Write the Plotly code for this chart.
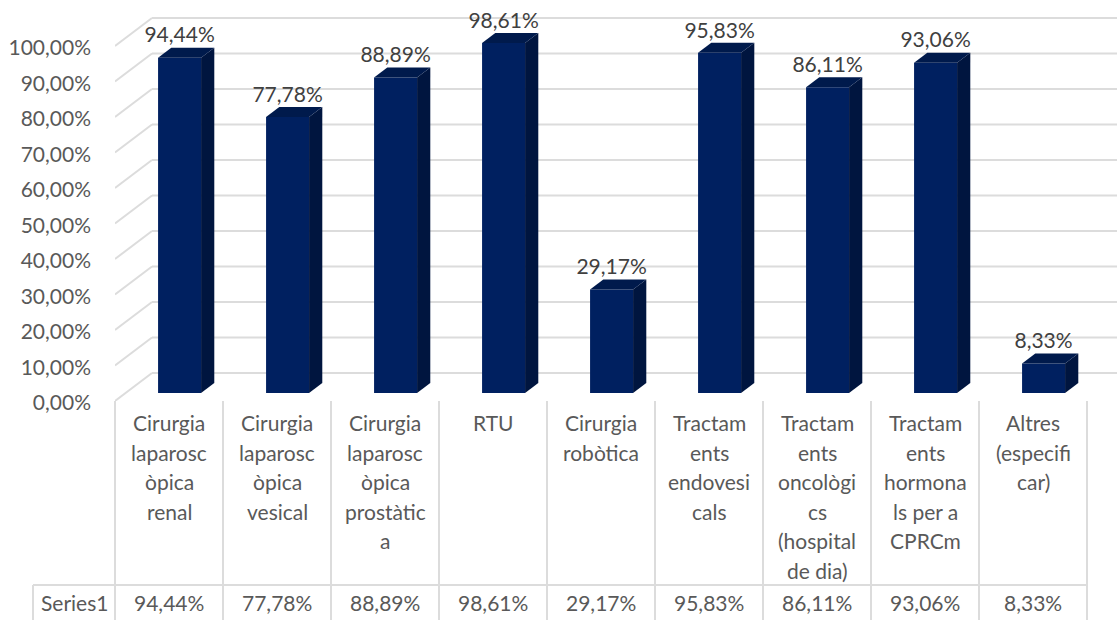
import plotly.graph_objects as go

categories = [
    ["Cirurgia", "laparosc", "òpica", "renal"],
    ["Cirurgia", "laparosc", "òpica", "vesical"],
    ["Cirurgia", "laparosc", "òpica", "prostàtic", "a"],
    ["RTU"],
    ["Cirurgia", "robòtica"],
    ["Tractam", "ents", "endovesi", "cals"],
    ["Tractam", "ents", "oncològi", "cs", "(hospital", "de dia)"],
    ["Tractam", "ents", "hormona", "ls per a", "CPRCm"],
    ["Altres", "(especifi", "car)"],
]
values = [94.44, 77.78, 88.89, 98.61, 29.17, 95.83, 86.11, 93.06, 8.33]
labels = ["94,44%", "77,78%", "88,89%", "98,61%", "29,17%", "95,83%", "86,11%", "93,06%", "8,33%"]
ticks = list(range(0, 101, 10))
tick_labels = ["%d,00%%" % t for t in ticks]
series_name = "Series1"

W, H = 1117, 620
FONT = "Lato"
FS = 21
TXT = "#595959"
GRID = "#dcdcdc"
FRONT, SIDE, TOP = "#002060", "#00153f", "#001a4c"

# geometry (pixels) of the pseudo-3D frame
left, cell, y0, y100 = 115, 108, 401, 46
unit = (y0 - y100) / 100
ytop = 4
xr = [-.5, (W - left) / cell - .5]
yr = [0, (y0 - ytop) / unit]
DX, DY = 37 / cell, 28 / unit       # floor depth
f1, f2 = 8 / 28, 18 / 28            # bar front / back depth fraction
bw = 43 / cell

fig = go.Figure()
shapes, ann = [], []
px = lambda p: p / W
py = lambda p: 1 - p / H
gline = dict(color=GRID, width=2)

# gridlines: back wall + slanted side segments
for t in ticks:
    shapes.append(dict(type="line", xref="x", yref="y", x0=-.5, x1=-.5 + DX, y0=t, y1=t + DY, line=gline, layer="below"))
    shapes.append(dict(type="line", xref="x", yref="y", x0=-.5 + DX, x1=xr[1], y0=t + DY, y1=t + DY, line=gline, layer="below"))

cx = [i + DX * f1 for i in range(9)]
ddx, ddy = DX * (f2 - f1), DY * (f2 - f1)
base = DY * f1
for x, v in zip(cx, values):
    xl, xr_ = x - bw / 2, x + bw / 2
    fig.add_trace(go.Scatter(x=[xr_, xr_ + ddx, xr_ + ddx, xr_, xr_],
                             y=[base, base + ddy, base + v + ddy, base + v, base], fill="toself",
                             fillcolor=SIDE, mode="none", hoverinfo="skip", showlegend=False))
    fig.add_trace(go.Scatter(x=[xl, xl + ddx, xr_ + ddx, xr_, xl],
                             y=[base + v, base + v + ddy, base + v + ddy, base + v, base + v], fill="toself",
                             fillcolor=TOP, mode="none", hoverinfo="skip", showlegend=False))
fig.add_trace(go.Bar(x=cx, y=values, base=base, width=bw, marker=dict(color=FRONT, line=dict(width=0)),
                     hoverinfo="skip", showlegend=False))
fig.add_trace(go.Scatter(x=cx, y=[v + DY * f2 for v in values], mode="text", text=labels,
                         textposition="top center", textfont=dict(family=FONT, size=FS, color="#404040"),
                         hoverinfo="skip", showlegend=False, cliponaxis=False))

# table frame
ROW_T, ROW_B = 585, 620
for i in range(10):
    p = left + i * cell
    shapes.append(dict(type="line", xref="paper", yref="paper", x0=px(p), x1=px(p), y0=py(y0), y1=py(ROW_B), line=gline))
shapes.append(dict(type="line", xref="paper", yref="paper", x0=px(33), x1=px(33), y0=py(ROW_T), y1=py(ROW_B), line=gline))
shapes.append(dict(type="line", xref="paper", yref="paper", x0=px(33), x1=px(left + 9 * cell), y0=py(ROW_T), y1=py(ROW_T), line=gline))

for i, lines in enumerate(categories):
    for j, s in enumerate(lines):
        ann.append(dict(x=i, xref="x", y=py(422.5 + j * 29.5), yref="paper", text=s, showarrow=False,
                        xanchor="center", yanchor="middle", font=dict(family=FONT, size=FS, color=TXT)))
    ann.append(dict(x=i, xref="x", y=py(602), yref="paper", text=labels[i], showarrow=False,
                    xanchor="center", yanchor="middle", font=dict(family=FONT, size=FS, color=TXT)))
ann.append(dict(x=px(74), xref="paper", y=py(602), yref="paper", text=series_name, showarrow=False,
                xanchor="center", yanchor="middle", font=dict(family=FONT, size=FS, color=TXT)))

fig.update_layout(
    width=W, height=H, margin=dict(l=0, r=0, t=0, b=0), plot_bgcolor="white", paper_bgcolor="white",
    xaxis=dict(range=xr, domain=[px(left), 1], showgrid=False, zeroline=False, showticklabels=False, ticks="", fixedrange=True),
    yaxis=dict(range=yr, domain=[py(y0), py(ytop)], showgrid=False, zeroline=False, tickvals=ticks, ticktext=tick_labels,
               ticklabelstandoff=23, ticklabelshift=2, tickfont=dict(family=FONT, size=FS, color=TXT), ticks="", fixedrange=True,
               automargin=False),
    shapes=shapes, annotations=ann, barmode="overlay",
)
fig.write_html("out.html", post_script="document.body.style.margin='0';document.body.style.overflow='hidden';",
               config={"displayModeBar": False})
